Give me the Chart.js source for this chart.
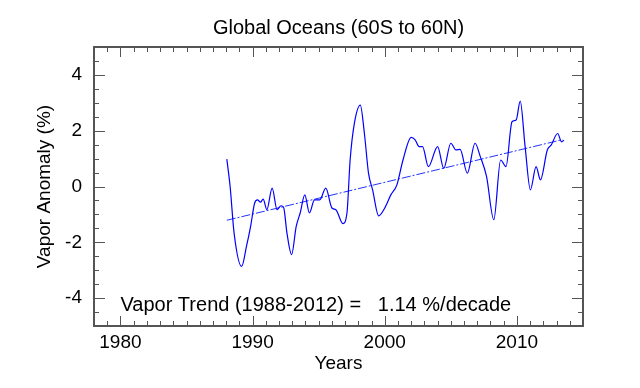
<!DOCTYPE html>
<html>
<head>
<meta charset="utf-8">
<script src="https://cdn.jsdelivr.net/npm/chart.js@4/dist/chart.umd.min.js"></script>
<style>
  html, body { margin: 0; padding: 0; background: #fff; }
  #wrap { width: 640px; height: 388px; }
</style>
</head>
<body>
<div id="wrap"><canvas id="vapor" width="640" height="388"></canvas></div>
<script>
// Anomalía de vapor (%)
const years = [
  1988.05, 1988.3, 1988.6, 1989.17, 1989.54, 1989.85, 1990.15, 1990.37, 1990.6, 1990.8,
  1991.08, 1991.48, 1991.85, 1992.15, 1992.35, 1992.6, 1992.95, 1993.3, 1993.6, 1993.95,
  1994.3, 1994.68, 1995.08, 1995.54, 1996.0, 1996.3, 1996.83, 1997.14, 1997.38, 1997.7,
  1998.15, 1998.46, 1998.77, 1999.08, 1999.54, 2000.0, 2000.46, 2000.92, 2001.38, 2002.0,
  2002.3, 2002.6, 2002.86, 2003.3, 2004.0, 2004.46, 2005.0, 2005.38, 2005.7, 2006.25,
  2006.83, 2007.23, 2007.7, 2008.25, 2008.77, 2009.17, 2009.63, 2009.94, 2010.25, 2010.62,
  2011.02, 2011.45, 2011.78, 2012.3, 2012.6, 2013.08, 2013.38, 2013.55
];
const vapor = [
  0.98, 0.0, -1.67, -2.86, -2.14, -1.43, -0.6, -0.48, -0.56, -0.45,
  -0.83, -0.06, -0.83, -0.69, -0.75, -1.67, -2.44, -1.43, -0.95, -0.3,
  -0.95, -0.48, -0.48, -0.06, -0.77, -0.83, -1.33, -0.95, 0.95, 2.26,
  2.92, 1.9, 0.48, -0.12, -1.05, -0.77, -0.3, 0.06, 0.95, 1.76,
  1.67, 1.43, 1.43, 0.71, 1.43, 0.65, 1.55, 1.31, 1.33, 0.48,
  1.55, 1.07, 0.36, -1.19, 0.95, 0.71, 2.32, 2.38, 3.06, 1.43,
  -0.12, 0.71, 0.24, 1.31, 1.49, 1.9, 1.6, 1.66
];

// Recta de tendencia (extremos)
const trendYears = [1988.05, 2013.45];
const trendValues = [-1.21, 1.68];

// Etiquetas de ejes
const xTickValues = [1980, 1990, 2000, 2010];
const yTickValues = [-4, -2, 0, 2, 4];

const TITLE = 'Global Oceans (60S to 60N)';
const NOTE = 'Vapor Trend (1988-2012) =   1.14 %/decade';
const FONT = '"Liberation Sans", Arial, Helvetica, sans-serif';
const AXIS_GREY = '#555';

// Marco, marcas interiores, título y nota
const framePlugin = {
  id: 'frame',
  afterDatasetsDraw(chart) {
    const { ctx, chartArea: a, scales: { x, y } } = chart;
    ctx.save();
    ctx.strokeStyle = AXIS_GREY;
    ctx.lineWidth = 1;
    ctx.beginPath();
    for (let yr = 1979; yr <= 2014; yr++) {
      const px = Math.round(x.getPixelForValue(yr)) + 0.5;
      const len = yr % 10 === 0 ? 10 : 5;
      ctx.moveTo(px, a.bottom); ctx.lineTo(px, a.bottom - len);
      ctx.moveTo(px, a.top); ctx.lineTo(px, a.top + len);
    }
    for (let v = -4.5; v <= 4.5; v += 0.5) {
      const py = Math.round(y.getPixelForValue(v)) + 0.5;
      const len = v % 2 === 0 ? 11 : 5;
      ctx.moveTo(a.left, py); ctx.lineTo(a.left + len, py);
      ctx.moveTo(a.right, py); ctx.lineTo(a.right - len, py);
    }
    ctx.stroke();
    ctx.lineWidth = 2;
    ctx.strokeRect(a.left, a.top, a.right - a.left, a.bottom - a.top);

    ctx.fillStyle = '#000';
    ctx.font = '20px ' + FONT;
    ctx.textAlign = 'center';
    ctx.textBaseline = 'middle';
    ctx.fillText(TITLE, (a.left + a.right) / 2, 28);

    ctx.textAlign = 'left';
    ctx.fillText(NOTE, x.getPixelForValue(1980), y.getPixelForValue(-4.25));
    ctx.restore();
  }
};

const ctx = document.getElementById('vapor').getContext('2d');
new Chart(ctx, {
  type: 'line',
  data: {
    datasets: [
      {
        data: years.map((yr, i) => ({ x: yr, y: vapor[i] })),
        borderColor: '#0000ff',
        borderWidth: 1.2,
        pointRadius: 0,
        cubicInterpolationMode: 'monotone',
        fill: false
      },
      {
        data: trendYears.map((yr, i) => ({ x: yr, y: trendValues[i] })),
        borderColor: '#2233ff',
        borderWidth: 1,
        borderDash: [9, 2, 2, 2],
        pointRadius: 0,
        fill: false
      }
    ]
  },
  options: {
    responsive: false,
    animation: false,
    devicePixelRatio: 1,
    layout: { padding: { top: 47, right: 57, left: 0, bottom: 0 } },
    plugins: { legend: { display: false }, tooltip: { enabled: false }, title: { display: false } },
    scales: {
      x: {
        type: 'linear',
        min: 1978,
        max: 2015,
        afterBuildTicks: s => { s.ticks = xTickValues.map(v => ({ value: v })); },
        afterFit: s => { s.height = 62; },
        grid: { display: false, drawTicks: false },
        border: { display: false },
        ticks: {
          color: '#000',
          padding: 5,
          maxRotation: 0,
          font: { family: FONT, size: 19 },
          callback: v => String(v)
        },
        title: {
          display: true,
          text: 'Years',
          color: '#000',
          font: { family: FONT, size: 19 },
          padding: { top: 0, bottom: 13 }
        }
      },
      y: {
        min: -5,
        max: 5,
        afterBuildTicks: s => { s.ticks = yTickValues.map(v => ({ value: v })); },
        afterFit: s => { s.width = 94; },
        grid: { display: false, drawTicks: false },
        border: { display: false },
        ticks: {
          color: '#000',
          padding: 12,
          font: { family: FONT, size: 19 },
          callback: v => String(v)
        },
        title: {
          display: true,
          text: 'Vapor Anomaly (%)',
          color: '#000',
          font: { family: FONT, size: 19 },
          padding: { top: 33, bottom: 0 }
        }
      }
    }
  },
  plugins: [framePlugin]
});
</script>
</body>
</html>
